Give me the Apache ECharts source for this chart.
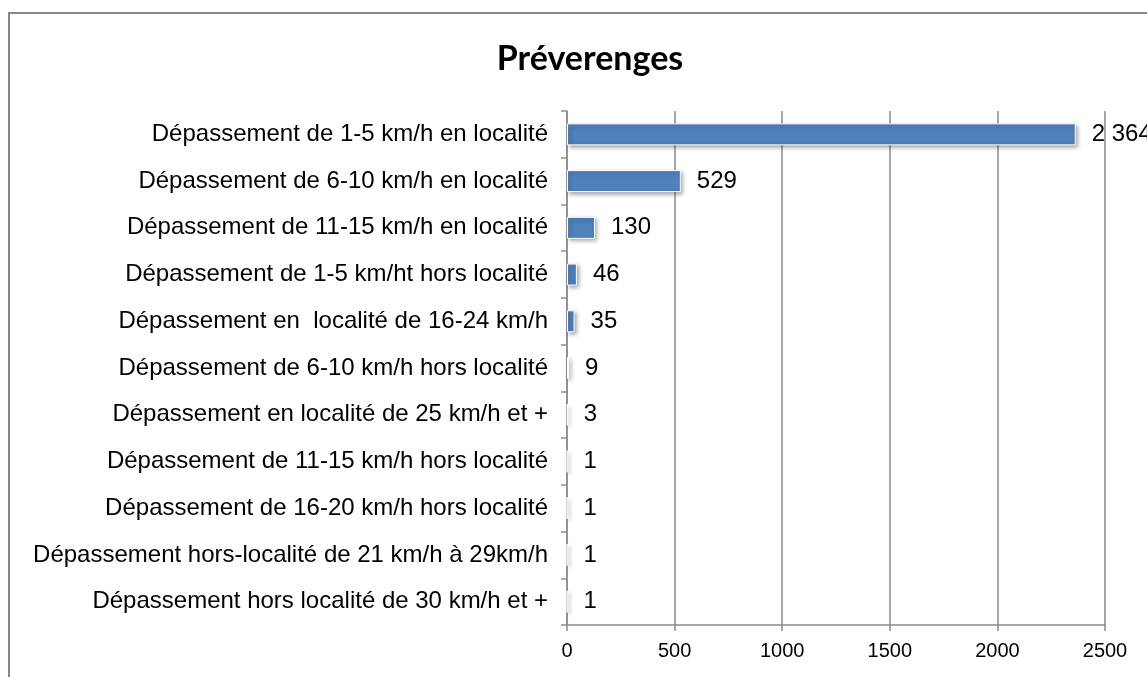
<!DOCTYPE html>
<html>
<head>
<meta charset="utf-8">
<script src="https://cdn.jsdelivr.net/npm/echarts@6/dist/echarts.min.js"></script>
<style>
  html, body { margin: 0; padding: 0; background: #fff; }
  #chart { width: 1147px; height: 677px; }
</style>
</head>
<body>
<div id="chart"></div>
<script>
// données du graphique
var categories = [
  "Dépassement de 1-5 km/h en localité",
  "Dépassement de 6-10 km/h en localité",
  "Dépassement de 11-15 km/h en localité",
  "Dépassement de 1-5 km/ht hors localité",
  "Dépassement en  localité de 16-24 km/h",
  "Dépassement de 6-10 km/h hors localité",
  "Dépassement en localité de 25 km/h et +",
  "Dépassement de 11-15 km/h hors localité",
  "Dépassement de 16-20 km/h hors localité",
  "Dépassement hors-localité de 21 km/h à 29km/h",
  "Dépassement hors localité de 30 km/h et +"
];
var values = [2364, 529, 130, 46, 35, 9, 3, 1, 1, 1, 1];
var xTicks = [0, 500, 1000, 1500, 2000, 2500];

var font = "Liberation Sans, Arial, sans-serif";
var myChart = echarts.init(document.getElementById("chart"));

myChart.setOption({
  backgroundColor: "#fff",
  animation: false,
  title: {
    text: "Préverenges",
    left: 585,
    textAlign: "center",
    top: 37,
    textStyle: { fontFamily: "Lato, sans-serif", fontWeight: "bold", fontSize: 34, color: "#000" }
  },
  // cadre gris autour du graphique
  graphic: [{
    type: "rect",
    shape: { x: 9, y: 13, width: 1300, height: 900 },
    style: { fill: "none", stroke: "#888", lineWidth: 2 },
    silent: true
  }],
  grid: { left: 567, right: 42, top: 111, bottom: 52, containLabel: false },
  xAxis: {
    type: "value",
    min: xTicks[0],
    max: xTicks[xTicks.length - 1],
    interval: 500,
    axisLine: { show: true, lineStyle: { color: "#8c8c8c", width: 1.5 } },
    axisTick: { show: true, length: 6, lineStyle: { color: "#8c8c8c", width: 1.5 } },
    splitLine: { show: true, lineStyle: { color: "#8c8c8c", width: 1.5 } },
    axisLabel: {
      color: "#000", fontSize: 20, fontFamily: font, margin: 16,
      formatter: function (v) { return String(v); }
    }
  },
  yAxis: {
    type: "category",
    data: categories,
    inverse: true,
    axisLine: { show: true, lineStyle: { color: "#8c8c8c", width: 1.5 } },
    axisTick: { show: true, length: 6, lineStyle: { color: "#8c8c8c", width: 1.5 } },
    axisLabel: { color: "#000", fontSize: 24, fontFamily: font, margin: 19 }
  },
  series: [{
    name: "Préverenges",
    type: "bar",
    data: values,
    barWidth: 22,
    itemStyle: {
      color: "#4f81bd",
      borderColor: "#fff",
      borderWidth: 1,
      shadowBlur: 4,
      shadowOffsetX: 2,
      shadowOffsetY: 2,
      shadowColor: "rgba(0,0,0,0.35)"
    },
    label: {
      show: true,
      position: "right",
      distance: 16,
      color: "#000",
      fontSize: 24,
      fontFamily: font,
      formatter: function (p) {
        return String(p.value).replace(/\B(?=(\d{3})+(?!\d))/g, " ");
      }
    }
  }]
});
</script>
</body>
</html>
